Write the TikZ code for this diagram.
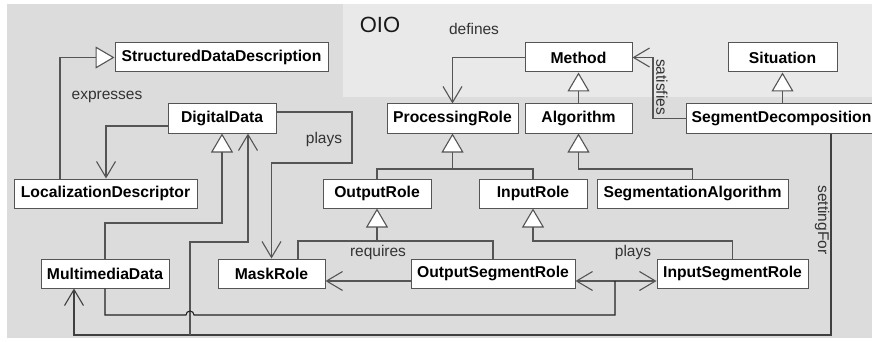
\documentclass[tikz,border=0pt]{standalone}
\usepackage{fontspec}
\setmainfont{Liberation Sans}
\usetikzlibrary{arrows.meta,calc}
\definecolor{outerbg}{HTML}{DCDCDC}
\definecolor{oiobg}{HTML}{E9E9E9}
\definecolor{linec}{HTML}{555555}
\definecolor{darkline}{HTML}{222222}
\definecolor{boxc}{HTML}{555555}
\definecolor{labelc}{HTML}{333333}
\tikzset{
  box/.style={draw=boxc, fill=white, line width=1pt, minimum height=29pt,
    inner sep=0pt, text=black, font=\bfseries\fontsize{15.7}{18}\selectfont},
  lbl/.style={inner sep=0pt, text=labelc, font=\fontsize{15.5}{18}\selectfont},
  conn/.style={draw=linec, line width=1.1pt},
  gen/.style={conn, -{Triangle[fill=white, length=19pt, width=22pt]}},
  assoc/.style={conn, -{Straight Barb[length=16pt, width=19pt]}},
  biassoc/.style={conn, {Straight Barb[length=16pt, width=19pt]}-{Straight Barb[length=16pt, width=19pt]}},
}
\begin{document}
\begin{tikzpicture}[x=1pt, y=-1pt]
\useasboundingbox (0,0) rectangle (872,342);
\clip (0,0) rectangle (872,342);

% background panels
\fill[outerbg] (7,4) rectangle (872,338);
\fill[oiobg] (343,4) rectangle (872,97);
\node[inner sep=0pt, text=black!90, font=\fontsize{22}{25}\selectfont] (oio) at (380,25) {OIO};

% classes
\node[box, minimum width=213pt] (SDD) at (221.5,57.5) {StructuredDataDescription};
\node[box, minimum width=108pt] (DD) at (222,118.5) {DigitalData};
\node[box, minimum width=131pt] (PR) at (452.5,118.5) {ProcessingRole};
\node[box, minimum width=107pt] (Alg) at (578.5,118.5) {Algorithm};
\node[box, minimum width=107pt] (Method) at (578.5,57.5) {Method};
\node[box, minimum width=109pt] (Sit) at (782.5,57.5) {Situation};
\node[box, minimum width=191pt] (SD) at (781.5,118.5) {SegmentDecomposition};
\node[box, minimum width=183pt] (LD) at (105.5,193.5) {LocalizationDescriptor};
\node[box, minimum width=108pt] (OR) at (377,193.5) {OutputRole};
\node[box, minimum width=108pt] (IR) at (533,193.5) {InputRole};
\node[box, minimum width=191pt] (SA) at (692.5,193.5) {SegmentationAlgorithm};
\node[box, minimum width=128pt] (MD) at (105,273.5) {MultimediaData};
\node[box, minimum width=107pt] (MR) at (271.5,273.5) {MaskRole};
\node[box, minimum width=164pt] (OSR) at (493,273.5) {OutputSegmentRole};
\node[box, minimum width=151pt] (ISR) at (732.5,273.5) {InputSegmentRole};

% generalizations
\draw[gen] (LD.north -| 60,0) |- (SDD.west);
\draw[gen] (MD.north) |- (DD.south |- 0,223) -- (DD.south);
\draw[gen] (Alg.north) -- (Method.south);
\draw[gen] (Sit.south |- SD.north) -- (Sit.south);
\draw[conn] (OR.north) |- (IR.north |- 0,169) -- (IR.north);
\draw[gen] (PR.south |- 0,169) -- (PR.south);
\draw[gen] (SA.north) |- (Alg.south |- 0,169) -- (Alg.south);
\draw[conn] (MR.north -| 298,0) |- (OSR.north |- 0,241) -- (OSR.north);
\draw[gen] (OR.south |- 0,241) -- (OR.south);
\draw[gen] (ISR.north) |- (IR.south |- 0,241) -- (IR.south);

% associations
\draw[assoc] (DD.west |- 0,126) -| (LD.north -| 106,0);
\node[lbl] (expresses) at (107,97) {expresses};

\draw[assoc] (DD.east |- 0,112) -| (352,163) -| (MR.north);
\node[lbl] (plays1) at (324,139) {plays};

\draw[assoc] (Method.west) -| (PR.north);
\node[lbl] (defines) at (474,29) {defines};

\draw[assoc] (SD.west) -| (Method.east -| 653,0) -- (Method.east);
\node[lbl, rotate=-90] (satisfies) at (662,87) {satisfies};

\draw[assoc] (OSR.west |- 0,281) -- (MR.east |- 0,281);
\node[lbl] (requires) at (378,252) {requires};

\draw[biassoc] (OSR.east |- 0,281) -- (ISR.west |- 0,281);
\node[lbl] (plays2) at (633,252) {plays};

% settingFor: SegmentDecomposition to MultimediaData and DigitalData
\draw[assoc, draw=black!75] (SD.south -| 831,0) |- (74,335) -- (MD.south -| 74,0);
\draw[assoc] (190,335) |- (248,242) -- (DD.south -| 248,0);
\node[lbl, rotate=-90] (settingfor) at (822,220) {settingFor};

% MultimediaData plays the segment roles (hops over the settingFor branch)
\draw[conn, draw=darkline] (MD.south) |- (186,315)
  arc[start angle=180, end angle=0, radius=4pt] -- (615,315) -- (615,281);
\end{tikzpicture}
\end{document}
